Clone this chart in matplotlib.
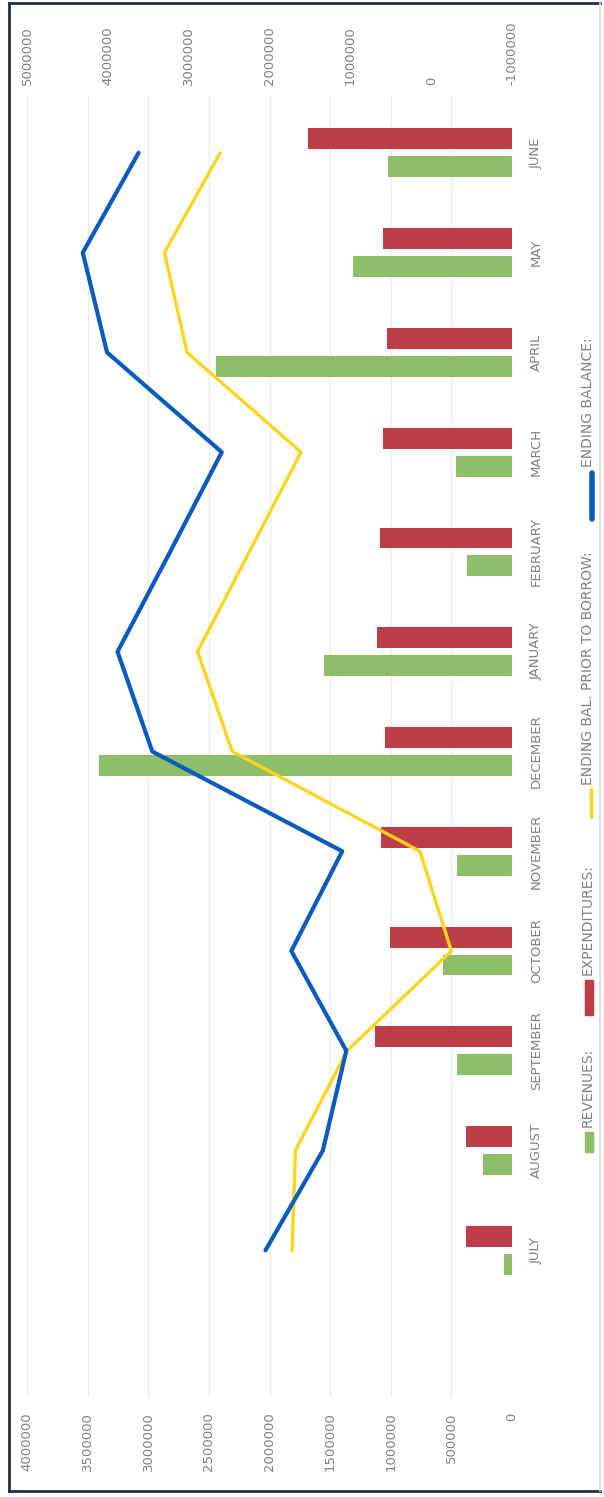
import numpy as np
import matplotlib
matplotlib.use('Agg')
from matplotlib import pyplot as plt
from matplotlib.lines import Line2D
from matplotlib.patches import Rectangle

months = ['JULY', 'AUGUST', 'SEPTEMBER', 'OCTOBER', 'NOVEMBER', 'DECEMBER',
          'JANUARY', 'FEBRUARY', 'MARCH', 'APRIL', 'MAY', 'JUNE']
revenues = [70000, 240000, 450000, 570000, 450000, 3410000,
            1550000, 370000, 460000, 2440000, 1310000, 1020000]
expenditures = [380000, 380000, 1130000, 1010000, 1080000, 1050000,
                1110000, 1090000, 1060000, 1030000, 1060000, 1680000]
ending_prior = [1720000, 1680000, 1040000, -250000, 140000, 2460000,
                2890000, 2250000, 1610000, 3020000, 3300000, 2610000]
ending_balance = [2050000, 1340000, 1050000, 1730000, 1100000, 3450000,
                  3880000, 3230000, 2590000, 4010000, 4310000, 3620000]
left_ticks = [0, 500000, 1000000, 1500000, 2000000, 2500000, 3000000, 3500000, 4000000]
right_ticks = [-1000000, 0, 1000000, 2000000, 3000000, 4000000, 5000000]
legend_names = ['REVENUES:', 'EXPENDITURES:', 'ENDING BAL. PRIOR TO BORROW:', 'ENDING BALANCE:']

green = '#8dbf68'
red = '#bd3d48'
yellow = '#ffd41c'
blue = '#0b5bbf'
gray = '#808080'

W, H = 604, 1497
fig = plt.figure(figsize=(W / 100, H / 100), dpi=100)
fig.patch.set_facecolor('white')

def fx(px):
    return px / W

def fy(py):
    return 1 - py / H

# the scanned chart is turned a quarter turn, so values run right to left
ax = fig.add_axes([fx(27), fy(1397), (512 - 27) / W, (1397 - 95) / H])
y = np.arange(len(months))
ax.barh(y - 0.14, revenues, height=0.21, color=green, zorder=2)
ax.barh(y + 0.14, expenditures, height=0.21, color=red, zorder=2)
ax.set_xlim(4000000, 0)
ax.set_ylim(-1.47, 11.58)
ax.set_xticks(left_ticks)
ax.set_xticklabels([str(v) for v in left_ticks], rotation=90)
ax.grid(axis='x', color='#ececec', lw=1)
ax.set_axisbelow(True)
ax.tick_params(axis='x', length=0, pad=11, labelsize=9.5, labelcolor=gray)
ax.yaxis.tick_right()
ax.set_yticks(y)
ax.set_yticklabels(months, rotation=90, va='center', ha='left')
ax.tick_params(axis='y', length=0, pad=13, labelsize=9.5, labelcolor=gray)
for s in ax.spines.values():
    s.set_visible(False)

ax2 = ax.twiny()
ax2.plot(ending_prior, y, color=yellow, lw=2.4, solid_joinstyle='round',
         solid_capstyle='round', zorder=3)
ax2.plot(ending_balance, y, color=blue, lw=3.0, solid_joinstyle='round',
         solid_capstyle='round', zorder=4)
ax2.set_xlim(5000000, -1000000)
ax2.set_xticks(right_ticks)
ax2.set_xticklabels([str(v) for v in right_ticks], rotation=90)
ax2.tick_params(axis='x', length=0, pad=7, labelsize=9.5, labelcolor=gray)
for s in ax2.spines.values():
    s.set_visible(False)

# legend, drawn by hand because it is turned too
fig.add_artist(Rectangle((fx(585), fy(1152)), 8 / W, 20 / H, transform=fig.transFigure,
                         color=green))
fig.add_artist(Rectangle((fx(585), fy(1015)), 8 / W, 35 / H, transform=fig.transFigure,
                         color=red))
fig.add_artist(Line2D([fx(591), fx(591)], [fy(817), fy(789)], transform=fig.transFigure,
                      color=yellow, lw=2.5, solid_capstyle='round'))
fig.add_artist(Line2D([fx(592), fx(592)], [fy(519), fy(473)], transform=fig.transFigure,
                      color=blue, lw=4, solid_capstyle='round'))
legend_start = [1127, 975, 785, 467]
for name, start in zip(legend_names, legend_start):
    fig.text(fx(588), fy(start), name, rotation=90, ha='center', va='bottom',
             fontsize=10, color=gray)

# page border
navy = '#1d2f4c'
fig.add_artist(Line2D([fx(9), fx(9)], [fy(3), fy(1491)], transform=fig.transFigure, color=navy, lw=2))
fig.add_artist(Line2D([fx(9), fx(600)], [fy(3), fy(3)], transform=fig.transFigure, color=navy, lw=2))
fig.add_artist(Line2D([fx(9), fx(600)], [fy(1491), fy(1491)], transform=fig.transFigure, color=navy, lw=2))
fig.add_artist(Line2D([fx(600), fx(600)], [fy(3), fy(1491)], transform=fig.transFigure, color='#d8dcd4', lw=1.2))

fig.savefig('out.png', dpi=100)
